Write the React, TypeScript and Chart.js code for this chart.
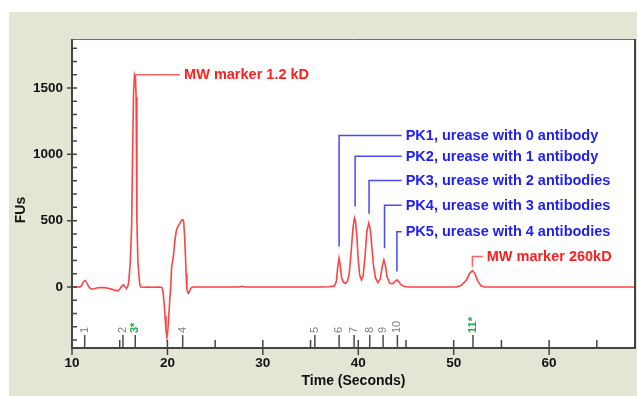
import React, { useEffect, useRef } from 'react';
import { Chart, registerables } from 'chart.js';

Chart.register(...registerables);

// Electropherogram trace: migration time (s) and fluorescence (FUs)
const timeSec = [
  10.0, 10.4, 10.8, 11.0, 11.2, 11.35, 11.5, 11.7, 11.9, 12.1, 12.4, 12.7, 13.0, 13.4, 13.8, 14.2,
  14.6, 14.9, 15.1, 15.25, 15.4, 15.55, 15.7, 15.85, 15.95, 16.1, 16.25, 16.35, 16.45, 16.55, 16.65,
  16.72, 16.8, 16.9, 17.0, 17.1, 17.2, 17.6, 18.0, 18.5, 19.0, 19.3, 19.45, 19.55, 19.65, 19.75,
  19.85, 19.95, 20.05, 20.15, 20.25, 20.35, 20.45, 20.55, 20.65, 20.8, 20.92, 21.05, 21.15, 21.3,
  21.5, 21.6, 21.7, 21.8, 21.88, 21.96, 22.04, 22.15, 22.22, 22.35, 22.5, 22.7, 23.5, 25.0, 27.5,
  27.8, 28.1, 30.0, 32.0, 34.0, 36.0, 37.0, 37.5, 37.7, 37.85, 37.98, 38.1, 38.25, 38.45, 38.65,
  38.85, 39.05, 39.25, 39.45, 39.6, 39.72, 39.85, 40.0, 40.15, 40.33, 40.5, 40.7, 40.9, 41.1,
  41.25, 41.4, 41.6, 41.8, 42.05, 42.3, 42.5, 42.68, 42.85, 43.0, 43.3, 43.6, 43.85, 44.05, 44.25,
  44.5, 44.8, 45.2, 47.0, 49.0, 50.3, 50.8, 51.33, 51.68, 51.95, 52.2, 52.55, 52.9, 53.2, 55.0,
  58.0, 62.0, 66.0, 69.0,
];
const fluorescence = [
  0, 2, -2, 10, 40, 48, 38, 10, -10, -17, -12, -6, -4, -5, -10, -18,
  -26, -28, -5, 8, 16, 2, -12, 5, 40, 180, 460, 1000, 1460, 1600, 1580,
  1430, 500, 200, 100, 20, 0, -2, 0, -2, 0, -2, -5, -40, -120, -220,
  -330, -378, -320, -210, -90, 10, 160, 195, 250, 360, 418, 450, 460, 480,
  503, 506, 495, 380, 250, 100, -20, -45, -48, -25, -5, 0, 0, 0, 0,
  5, 0, 0, 0, 0, 0, 2, 8, 40, 150, 217, 170, 70, 35, 28,
  40, 100, 260, 450, 519, 490, 380, 200, 90, 53, 80, 220, 420, 481,
  440, 320, 160, 70, 33, 60, 150, 204, 160, 80, 28, 25, 40, 53, 40,
  15, 5, 0, 0, 0, 0, 13, 53, 103, 123, 103, 40, 7, 0, 0,
  0, 0, 0, 0,
];

// Axis ticks
const xTickValues = [10, 20, 30, 40, 50, 60];
const yTickValues = [0, 500, 1000, 1500];

// Detected peak markers along the time axis
const markerTimes = [11.33, 15.34, 16.63, 21.6, 35.45, 37.99, 39.56, 41.2, 42.6, 44.1, 52.02];
const markerLabels = ['1', '2', '3*', '4', '5', '6', '7', '8', '9', '10', '11*'];
const markerIsStandard = [false, false, true, false, false, false, false, false, false, false, true];

// Peak call-outs
const peakLabels = [
  'MW marker 1.2 kD',
  'PK1, urease with 0 antibody',
  'PK2, urease with 1 antibody',
  'PK3, urease with 2 antibodies',
  'PK4, urease with 3 antibodies',
  'PK5, urease with 4 antibodies',
  'MW marker 260kD',
];
const peakKind = ['mw', 'pk', 'pk', 'pk', 'pk', 'pk', 'mw'];
const peakTimes = [16.6, 37.99, 39.67, 41.13, 42.75, 44.05, 51.96];
const leaderFrom = [1600, 305, 607, 552, 292, 116, 153];
const labelLevel = [1600, 1141, 986, 803, 616, 416, 229];
const labelTime = [21.75, 44.97, 44.97, 44.97, 44.97, 44.97, 53.46];

const FONT = '"Liberation Sans", Arial, sans-serif';

const decorations = {
  id: 'decorations',
  beforeDraw(chart: any) {
    const { ctx, chartArea: a, width, height } = chart;
    ctx.save();
    ctx.fillStyle = '#ffffff';
    ctx.fillRect(0, 0, width, height);
    ctx.fillStyle = '#E5E5D5';
    ctx.fillRect(9, 12, width - 9, height - 12);
    ctx.fillStyle = '#ffffff';
    ctx.fillRect(a.left, a.top, a.right - a.left, a.bottom - a.top);
    ctx.restore();
  },
  afterDraw(chart: any) {
    const { ctx, chartArea: a } = chart;
    const xs = chart.scales.x;
    const ys = chart.scales.y;
    ctx.save();

    // frame
    ctx.strokeStyle = '#707070';
    ctx.lineWidth = 1;
    ctx.beginPath();
    ctx.moveTo(a.left, a.top + 0.5);
    ctx.lineTo(a.right, a.top + 0.5);
    ctx.stroke();
    ctx.strokeStyle = '#454545';
    ctx.lineWidth = 2;
    ctx.beginPath();
    ctx.moveTo(a.left, a.top);
    ctx.lineTo(a.left, a.bottom);
    ctx.lineTo(a.right, a.bottom);
    ctx.lineTo(a.right, a.top);
    ctx.stroke();

    // tick marks (major cross the axis, minor point inward)
    ctx.strokeStyle = '#454545';
    ctx.lineWidth = 1.5;
    ctx.beginPath();
    for (let v = 10; v <= xs.max; v += 5) {
      const px = xs.getPixelForValue(v);
      const major = v % 10 === 0;
      ctx.moveTo(px, a.bottom - 8);
      ctx.lineTo(px, a.bottom + (major ? 7 : 0));
    }
    for (let v = -400; v <= ys.max; v += 100) {
      const py = ys.getPixelForValue(v);
      const major = v % 500 === 0;
      ctx.moveTo(a.left - (major ? 5 : 0), py);
      ctx.lineTo(a.left + 5, py);
    }
    ctx.stroke();

    // peak markers
    markerTimes.forEach((t, i) => {
      const px = xs.getPixelForValue(t);
      ctx.strokeStyle = '#4a4a4a';
      ctx.lineWidth = 1.5;
      ctx.beginPath();
      ctx.moveTo(px, a.bottom);
      ctx.lineTo(px, a.bottom - 13);
      ctx.stroke();
      ctx.save();
      ctx.translate(px, a.bottom - 15);
      ctx.rotate(-Math.PI / 2);
      ctx.textAlign = 'left';
      ctx.textBaseline = 'middle';
      ctx.font = (markerIsStandard[i] ? 'bold ' : '') + '11px ' + FONT;
      ctx.fillStyle = markerIsStandard[i] ? '#1DAA48' : '#808080';
      ctx.fillText(markerLabels[i], 0, 0);
      ctx.restore();
    });

    // call-outs
    ctx.font = 'bold 14.5px ' + FONT;
    ctx.textAlign = 'left';
    ctx.textBaseline = 'middle';
    peakLabels.forEach((label, i) => {
      const px = xs.getPixelForValue(peakTimes[i]);
      const py0 = ys.getPixelForValue(leaderFrom[i]);
      const py1 = ys.getPixelForValue(labelLevel[i]);
      const tx = xs.getPixelForValue(labelTime[i]);
      const red = peakKind[i] === 'mw';
      ctx.strokeStyle = red ? '#FF6060' : '#4848FF';
      ctx.lineWidth = 1.5;
      ctx.beginPath();
      ctx.moveTo(px, py0);
      ctx.lineTo(px, py1);
      ctx.lineTo(tx - 4, py1);
      ctx.stroke();
      ctx.fillStyle = red ? '#FF1E1E' : '#2020F5';
      ctx.fillText(label, tx, py1 + 0.5);
    });

    // y axis title
    ctx.save();
    ctx.translate(21, 210);
    ctx.rotate(-Math.PI / 2);
    ctx.textAlign = 'center';
    ctx.textBaseline = 'middle';
    ctx.font = 'bold 14px ' + FONT;
    ctx.fillStyle = '#111111';
    ctx.fillText('FUs', 0, 0);
    ctx.restore();

    ctx.restore();
  },
};

export default function App() {
  const canvasRef = useRef<HTMLCanvasElement | null>(null);

  useEffect(() => {
    const canvas = canvasRef.current;
    if (!canvas) return;
    const chart = new Chart(canvas, {
      type: 'line',
      data: {
        datasets: [
          {
            data: timeSec.map((t, i) => ({ x: t, y: fluorescence[i] })),
            borderColor: 'rgba(255, 45, 45, 0.9)',
            borderWidth: 1.6,
            pointRadius: 0,
            tension: 0,
            fill: false,
          },
        ],
      },
      options: {
        animation: false,
        responsive: false,
        devicePixelRatio: 1,
        layout: { padding: { left: 0, right: 2, top: 39, bottom: 0 } },
        plugins: { legend: { display: false }, tooltip: { enabled: false } },
        scales: {
          x: {
            type: 'linear',
            min: 10,
            max: 69,
            afterFit: (s: any) => { s.height = 48; },
            afterBuildTicks: (s: any) => { s.ticks = xTickValues.map((v) => ({ value: v })); },
            border: { display: false },
            grid: { display: true, drawOnChartArea: false, drawTicks: true, tickLength: 7, color: 'rgba(0,0,0,0)' },
            ticks: {
              padding: 0,
              maxRotation: 0,
              autoSkip: false,
              color: '#111111',
              font: { family: FONT, size: 13.5, weight: 'bold' },
              callback: (v: any) => String(v),
            },
            title: {
              display: true,
              text: 'Time (Seconds)',
              color: '#111111',
              font: { family: FONT, size: 14, weight: 'bold' },
              padding: { top: 0, bottom: 6 },
            },
          },
          y: {
            type: 'linear',
            min: -460,
            max: 1869,
            afterFit: (s: any) => { s.width = 72; },
            afterBuildTicks: (s: any) => { s.ticks = yTickValues.map((v) => ({ value: v })); },
            border: { display: false },
            grid: { display: true, drawOnChartArea: false, drawTicks: true, tickLength: 5, color: 'rgba(0,0,0,0)' },
            ticks: {
              padding: 4,
              autoSkip: false,
              color: '#111111',
              font: { family: FONT, size: 13.5, weight: 'bold' },
              callback: (v: any) => String(v),
            },
          },
        },
      },
      plugins: [decorations],
    });
    return () => chart.destroy();
  }, []);

  return (
    <div style={{ position: 'absolute', left: 0, top: 0, width: 637, height: 396 }}>
      <canvas ref={canvasRef} width={637} height={396} style={{ display: 'block' }} />
    </div>
  );
}
